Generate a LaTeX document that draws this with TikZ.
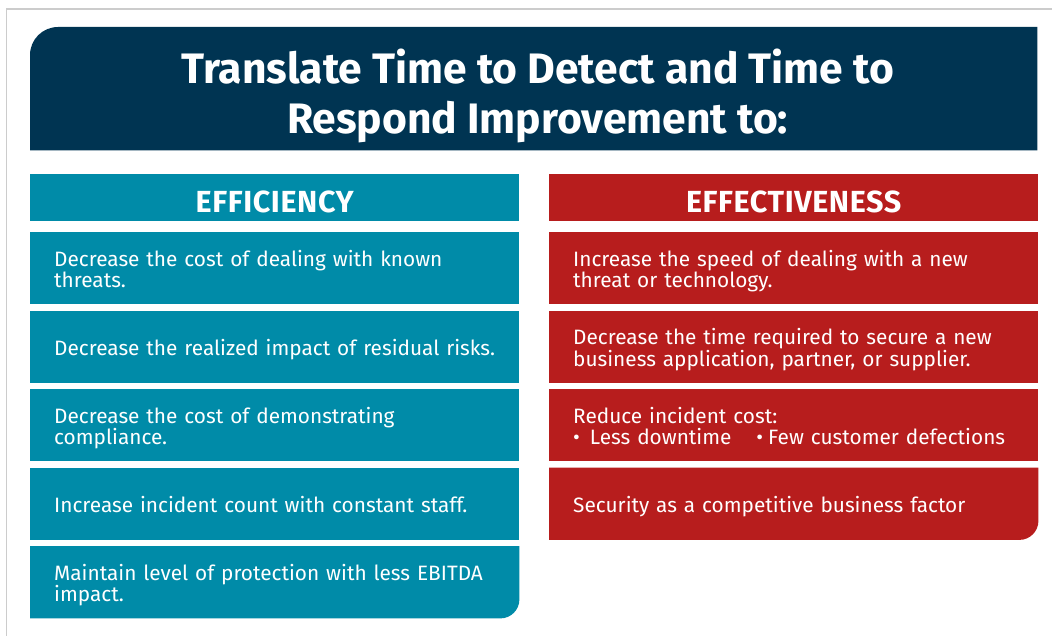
\documentclass[tikz,border=0pt]{standalone}
\usepackage{fontspec}
\setmainfont{Fira Sans}
\usetikzlibrary{backgrounds}
\definecolor{mynavy}{RGB}{0,52,82}
\definecolor{myteal}{RGB}{0,139,168}
\definecolor{myred}{RGB}{183,29,29}
\colorlet{framegray}{black!20}
\tikzset{
    banner/.style={anchor=north west, minimum width=1007pt, minimum height=123pt, inner sep=0pt},
    ttl/.style={text=white, align=center, font=\bfseries\fontsize{42.6}{50}\selectfont},
    hd/.style={anchor=north west, minimum width=489pt, minimum height=47pt, inner sep=0pt,
        text=white, text height=32pt, text depth=1.6pt,
        font=\bfseries\fontsize{30.5}{33}\selectfont\addfontfeatures{LetterSpace=2}},
    cell/.style={anchor=north west, text width=441pt, inner xsep=24pt, inner ysep=0pt,
        minimum height=72pt, align=left, text=white, font=\fontsize{20.8}{21.5}\selectfont,
        execute at begin node={\leavevmode\vrule width 0pt height 22pt\relax},
        execute at end node={\vrule width 0pt depth 4pt\relax}},
    eff/.style={fill=myteal},
    efv/.style={fill=myred}
}

\begin{document}
\begin{tikzpicture}[x=1pt,y=-1pt]
\useasboundingbox (0,0) rectangle (1052,636);
\draw[framegray, line width=1.5pt] (6.5,636) -- (6.5,9) -- (1052,9);

\node[banner] (top) at (30,27) {};
\node[ttl] (title) at ([xshift=4pt,yshift=-7.5pt]top.center) {Translate Time to Detect and Time to\\Respond Improvement to:};

% efficiency column
\node[hd,eff] (h1) at (30,174) {EFFICIENCY};
\node[cell,eff] (e1) at (30,232) {Decrease the cost of dealing with known\\threats.};
\node[cell,eff] (e2) at (30,310.5) {Decrease the realized impact of residual risks.};
\node[cell,eff] (e3) at (30,389) {Decrease the cost of demonstrating\\compliance.};
\node[cell,eff] (e4) at (30,467.5) {Increase incident count with constant staff.};
\node[cell] (e5) at (30,546) {Maintain level of protection with less EBITDA\\impact.};

% effectiveness column
\node[hd,efv] (h2) at (549,174) {EFFECTIVENESS};
\node[cell,efv] (v1) at (549,232) {Increase the speed of dealing with a new\\threat or technology.};
\node[cell,efv] (v2) at (549,310.5) {Decrease the time required to secure a new\\business application, partner, or supplier.};
\node[cell,efv] (v3) at (549,389) {Reduce incident cost:\\•\hspace{10pt}Less downtime\hspace{25pt}•\hspace{5pt}Few customer defections};
\node[cell] (v4) at (549,467.5) {Security as a competitive business factor};

\begin{pgfonlayer}{background}
\fill[mynavy] (top.west) [rounded corners=28pt] -- (top.north west) -- (top.north) [sharp corners] -- (top.north east) -- (top.south east) -- (top.south west) -- cycle;
\fill[myteal] (e5.east) [rounded corners=19pt] -- (e5.south east) -- (e5.south) [sharp corners] -- (e5.south west) -- (e5.north west) -- (e5.north east) -- cycle;
\fill[myred] (v4.east) [rounded corners=19pt] -- (v4.south east) -- (v4.south) [sharp corners] -- (v4.south west) -- (v4.north west) -- (v4.north east) -- cycle;
\end{pgfonlayer}
\end{tikzpicture}
\end{document}
